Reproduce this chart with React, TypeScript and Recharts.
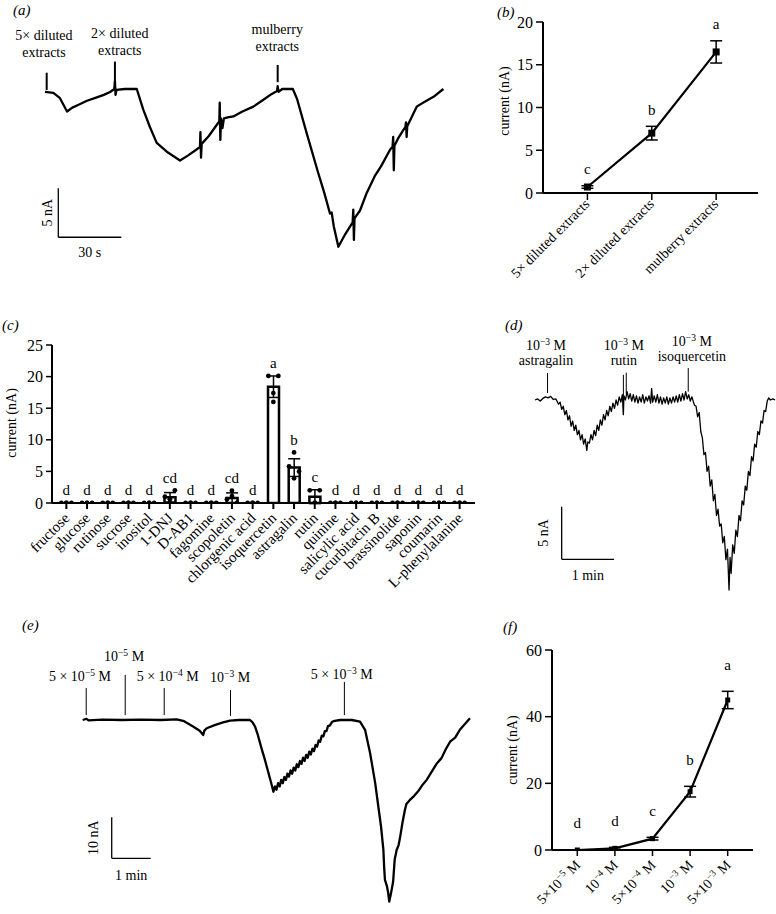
import React from 'react';
import {
  LineChart, Line, XAxis, YAxis, ReferenceLine, ReferenceDot,
  ComposedChart, Bar, ErrorBar, LabelList,
} from 'recharts';

const FONT = '"Liberation Serif", "Times New Roman", Times, serif';

// ---------------- Panel (a): trace, time (s) vs current (nA) ----------------
const aTrace = [
  [0, -0.3], [4, -0.4], [7, -0.9], [10.5, -2.3], [13, -1.9], [16, -1.6], [20, -1.2], [24, -0.9], [28, -0.6],
  [31, -0.3], [33, 0], [33.3, 0.8], [33.6, -0.6], [34, -0.1], [38, 0], [43.7, 0], [46.8, -2.1], [50, -3.9],
  [53.2, -5.5], [58, -6.4], [64.3, -7.3], [68, -6.8], [72, -6.2], [73.8, -5.9], [74, -4.4], [74.3, -7.0],
  [74.6, -5.6], [78, -4.8], [82, -3.6], [83, -3.3], [83.2, -1.4], [83.5, -5.2], [83.8, -3.0], [84.5, -4.0],
  [85.2, -3.0], [87, -2.9], [89.7, -2.8], [94, -2.3], [99.2, -1.8], [104, -1.1], [108, -0.5], [110.5, -0.2],
  [110.8, 0.3], [111.2, -0.3], [113, 0], [118, 0], [120, -1.0], [124.6, -4.5], [130, -8.5], [133, -10.6],
  [135.7, -12.7], [136.5, -12.6], [137.5, -14.0], [139.7, -16.1], [143, -14.8], [146.5, -13.6], [146.8, -12.3],
  [147.1, -15.4], [147.4, -13.2], [150, -12.4], [153.2, -10.6], [157, -8.9], [160, -7.9], [164.3, -6.2],
  [165.5, -5.9], [165.8, -4.9], [166.1, -8.3], [166.4, -5.8], [168, -5.1], [170.6, -4.2], [171.6, -3.9],
  [171.9, -3.4], [172.2, -4.9], [172.5, -3.8], [177, -1.8], [180, -1.4], [185, -0.8], [189.7, 0],
];
const aMarkerTime = [0.8, 33.3, 110.8];
const aMarkerTop = [1.66, 2.8, 2.45];
const aMarkerBottom = [-0.1, 0.1, 0.7];
const aLabelTime = [-0.5, 35.6, 110.6];
const aLabelLevel = [3.27, 3.47, 3.9];
const aLabels = [['5× diluted', 'extracts'], ['2× diluted', 'extracts'], ['mulberry', 'extracts']];
const aScale = { t: 6.33, I: -15.13, dt: 30, dI: 5, tLabel: '30 s', iLabel: '5 nA' };

// ---------------- Panel (b) ----------------
const bCategories = ['5× diluted extracts', '2× diluted extracts', 'mulberry extracts'];
const bMean = [0.7, 7.0, 16.5];
const bErr = [0.15, 0.8, 1.3];
const bLetters = ['c', 'b', 'a'];
const bTicks = [0, 5, 10, 15, 20];

// ---------------- Panel (c) ----------------
const cCompounds = [
  'fructose', 'glucose', 'rutinose', 'sucrose', 'inositol', '1-DNJ', 'D-AB1', 'fagomine', 'scopoletin',
  'chlorgenic acid', 'isoquercetin', 'astragalin', 'rutin', 'quinine', 'salicylic acid', 'cucurbitacin B',
  'brassinolide', 'saponin', 'coumarin', 'L-phenylalanine',
];
const cMean = [0, 0, 0, 0, 0, 0.9, 0, 0, 0.8, 0, 18.4, 5.6, 1.0, 0, 0, 0, 0, 0, 0, 0];
const cErr = [0, 0, 0, 0, 0, 0.75, 0, 0, 0.8, 0, 1.7, 1.4, 1.1, 0, 0, 0, 0, 0, 0, 0];
const cRep1 = [0, 0, 0, 0, 0, 1.0, 0, 0, 0.6, 0, 20.1, 5.8, 2.0, 0, 0, 0, 0, 0, 0, 0];
const cRep2 = [0, 0, 0, 0, 0, 2.0, 0, 0, 0, 0, 20.1, 5.0, 2.0, 0, 0, 0, 0, 0, 0, 0];
const cRep3 = [0, 0, 0, 0, 0, 0.6, 0, 0, 1.95, 0, 17.4, 8.0, 0, 0, 0, 0, 0, 0, 0, 0];
const cRep4 = [0, 0, 0, 0, 0, 0, 0, 0, 1.1, 0, 16.0, 3.9, 0, 0, 0, 0, 0, 0, 0, 0];
const cLetters = ['d', 'd', 'd', 'd', 'd', 'cd', 'd', 'd', 'cd', 'd', 'a', 'b', 'c', 'd', 'd', 'd', 'd', 'd', 'd', 'd'];
const cTicks = [0, 5, 10, 15, 20, 25];

// ---------------- Panel (d): trace, time (min) vs current (nA) ----------------
const dTrace = [
  [0, 0], [0.05, 0.1], [0.1, -0.1], [0.15, 0.15], [0.2, 0.3], [0.25, 0.2], [0.3, 0.35], [0.35, 0.05], [0.4, 0.1],
  [0.45, -0.4], [0.48, -0.2], [0.51, -0.9], [0.54, -0.6], [0.57, -1.4], [0.6, -1.0], [0.63, -1.9], [0.66, -1.5],
  [0.69, -2.5], [0.72, -2.0], [0.75, -2.9], [0.78, -2.4], [0.81, -3.3], [0.84, -2.9], [0.87, -3.8], [0.9, -3.3],
  [0.93, -4.2], [0.96, -3.7], [0.99, -4.8], [1.01, -4.0], [1.04, -4.1], [1.07, -3.3], [1.1, -3.8], [1.13, -2.9],
  [1.16, -3.4], [1.19, -2.4], [1.22, -2.9], [1.25, -1.9], [1.28, -2.4], [1.31, -1.4], [1.34, -1.9], [1.37, -1.0],
  [1.4, -1.5], [1.43, -0.6], [1.46, -1.1], [1.49, -0.3], [1.52, -0.8], [1.55, 0.0], [1.58, -0.5], [1.61, 0.3],
  [1.64, -0.2], [1.67, 0.5], [1.69, -1.4], [1.7, 0.4], [1.73, 0.0], [1.76, 0.8], [1.79, 0.1], [1.82, 0.6],
  [1.85, -0.1], [1.88, 0.5], [1.91, -0.2], [1.94, 0.4], [1.97, -0.3], [2.0, 0.3], [2.03, -0.2], [2.06, 0.5],
  [2.09, -0.3], [2.12, 0.3], [2.15, -0.1], [2.18, 0.4], [2.21, -0.3], [2.23, 1.1], [2.25, -0.2], [2.28, 0.4],
  [2.31, -0.2], [2.34, 0.5], [2.37, -0.3], [2.4, 0.3], [2.43, -0.4], [2.46, 0.2], [2.49, -0.3], [2.52, 0.3],
  [2.55, -0.4], [2.58, 0.2], [2.61, -0.3], [2.64, 0.3], [2.67, -0.2], [2.7, 0.4], [2.73, -0.2], [2.76, 0.5],
  [2.79, -0.1], [2.82, 0.6], [2.85, 0.0], [2.88, 0.8], [2.91, 0.1], [2.94, 0.5], [2.97, -0.1], [3.0, 0.3],
  [3.03, -0.2], [3.05, -0.5], [3.08, -0.6], [3.11, -1.6], [3.14, -1.2], [3.17, -3.0], [3.2, -3.6], [3.23, -5.2],
  [3.26, -5.0], [3.29, -6.8], [3.32, -6.3], [3.35, -8.2], [3.38, -7.6], [3.41, -9.6], [3.44, -9.0], [3.47, -11.0],
  [3.5, -10.4], [3.53, -12.0], [3.56, -11.8], [3.59, -13.6], [3.62, -13.0], [3.65, -15.2], [3.68, -14.2],
  [3.71, -18.1], [3.73, -15.0], [3.75, -16.5], [3.78, -13.8], [3.81, -14.6], [3.84, -12.4], [3.87, -13.0],
  [3.9, -11.0], [3.93, -11.5], [3.96, -9.6], [3.99, -10.0], [4.02, -8.2], [4.05, -8.6], [4.08, -6.8], [4.11, -7.2],
  [4.14, -5.4], [4.17, -5.8], [4.2, -4.2], [4.23, -4.5], [4.26, -3.0], [4.29, -3.3], [4.32, -2.0], [4.35, -2.2],
  [4.38, -1.0], [4.41, -1.1], [4.44, -0.1], [4.47, 0.2], [4.5, 0.0], [4.55, 0.1], [4.59, 0.0],
];
const dMarkerTime = [0.24, 1.69, 1.745, 2.93];
const dMarkerTop = [2.57, 2.4, 2.6, 3.05];
const dMarkerBottom = [0.67, -1.4, 0.6, 0.8];
const dLabelTime = [0.21, 1.7, 3.0];
const dLabelLevel = [3.33, 3.33, 3.67];
const dLabels = [['10^{−3} M', 'astragalin'], ['10^{−3} M', 'rutin'], ['10^{−3} M', 'isoquercetin']];
const dScale = { t: 0.51, I: -15.17, dt: 1, dI: 5, tLabel: '1 min', iLabel: '5 nA' };

// ---------------- Panel (e): trace, time (min) vs current (nA) ----------------
const eTrace = [
  [0, 0], [0.1, 0.3], [0.15, -0.1], [0.5, 0.1], [1.0, 0], [1.5, 0.1], [2.0, 0], [2.41, 0.17], [2.6, -0.3],
  [2.84, -1.63], [3.0, -2.6], [3.09, -3.66], [3.12, -2.6], [3.18, -2.02], [3.4, -1.2], [3.6, -0.6], [3.78, -0.17],
  [4.0, 0], [4.29, 0], [4.35, -0.5], [4.42, -1.6], [4.48, -3.3], [4.55, -5.7], [4.6, -7.4], [4.66, -9.3],
  [4.72, -11.4], [4.78, -13.5], [4.84, -15.6], [4.89, -17.5], [4.93, -16.2], [4.97, -17.0], [5.01, -15.4],
  [5.05, -16.2], [5.09, -14.6], [5.13, -15.4], [5.17, -13.9], [5.21, -14.6], [5.25, -13.1], [5.29, -13.8],
  [5.33, -12.3], [5.37, -13.1], [5.41, -11.6], [5.45, -12.3], [5.49, -10.8], [5.53, -11.5], [5.57, -10.0],
  [5.61, -10.7], [5.65, -9.2], [5.69, -10.0], [5.73, -8.5], [5.77, -9.2], [5.81, -7.7], [5.85, -8.4], [5.89, -7.0],
  [5.93, -7.6], [5.97, -6.1], [6.01, -6.5], [6.05, -5.0], [6.09, -5.3], [6.13, -3.8], [6.17, -4.0], [6.21, -2.7],
  [6.25, -2.7], [6.29, -1.5], [6.34, -1.3], [6.39, -0.5], [6.43, -0.3], [6.6, 0], [6.9, 0], [7.11, -0.4],
  [7.24, -2.4], [7.37, -8.1], [7.5, -15.4], [7.58, -21.1], [7.65, -26], [7.71, -31.7], [7.73, -36], [7.75, -39],
  [7.8, -40.5], [7.83, -42], [7.86, -44.3], [7.9, -42.5], [7.93, -41], [7.96, -39.4], [8.0, -34], [8.05, -31.7],
  [8.1, -30.5], [8.14, -28.5], [8.2, -25], [8.26, -22], [8.3, -20.5], [8.39, -19.5], [8.5, -18.5], [8.6, -17.4],
  [8.7, -16], [8.82, -14.6], [8.95, -12.6], [9.08, -10.6], [9.2, -9.3], [9.3, -7.3], [9.42, -5.3], [9.55, -4.3],
  [9.67, -2.4], [9.8, -1.0], [9.93, 0.4],
];
const eMarkerTime = [0.09, 1.09, 2.09, 3.79, 6.71];
const eMarkerTop = [7.8, 11.0, 7.8, 7.3, 9.3];
const eMarkerBottom = [1.2, 1.2, 1.2, 1.0, 1.2];
const eLabelTime = [-0.07, 1.06, 2.18, 3.78, 6.64];
const eLabelLevel = [9.51, 14.4, 9.51, 9.27, 10.0];
const eLabels = [['5 × 10^{−5} M'], ['10^{−5} M'], ['5 × 10^{−4} M'], ['10^{−3} M'], ['5 × 10^{−3} M']];
const eScale = { t: 0.744, I: -33.73, dt: 1, dI: 10, tLabel: '1 min', iLabel: '10 nA' };

// ---------------- Panel (f) ----------------
const fCategories = ['5×10^{−5} M', '10^{−4} M', '5×10^{−4} M', '10^{−3} M', '5×10^{−3} M'];
const fMean = [0, 0.5, 3.4, 17.5, 45];
const fErr = [0, 0.3, 0.4, 1.6, 2.6];
const fLetters = ['d', 'd', 'c', 'b', 'a'];
const fTicks = [0, 20, 40, 60];

// ---------------- helpers ----------------
function Rich({ text, x, y, anchor = 'middle', size = 14, rotate = 0 }: any) {
  const parts = String(text).split(/(\^\{[^}]*\})/).filter((s) => s.length > 0);
  let sup = false;
  const spans: any[] = [];
  parts.forEach((p, i) => {
    if (p.startsWith('^{')) {
      spans.push(<tspan key={i} dy={-size * 0.38} fontSize={size * 0.68}>{p.slice(2, -1)}</tspan>);
      sup = true;
    } else {
      spans.push(<tspan key={i} dy={sup ? size * 0.38 : 0}>{p}</tspan>);
      sup = false;
    }
  });
  return (
    <text x={x} y={y} textAnchor={anchor} fontSize={size} fontFamily={FONT} fill="#000"
      transform={rotate ? `rotate(${rotate} ${x} ${y})` : undefined}>{spans}</text>
  );
}

function vbOf(p: any) {
  const vb = p && p.viewBox ? p.viewBox : p;
  return { x: vb.x ?? p.x ?? p.cx, y: vb.y ?? p.y ?? p.cy };
}

function TracePanel({ left, top, width, height, x0, y0, sx, sy, trace, traceWidth, markerTime, markerTop,
  markerBottom, markerWidth, labelTime, labelLevel, labels, lineGap, scale, yLabOff, xLabOff }: any) {
  const data = trace.map((p: number[]) => ({ t: p[0], I: p[1] }));
  const xDomain = [-x0 / sx, (width - x0) / sx];
  const yDomain = [-(height - y0) / sy, y0 / sy];
  return (
    <div style={{ position: 'absolute', left, top }}>
      <LineChart width={width} height={height} data={data} margin={{ top: 0, right: 0, bottom: 0, left: 0 }}>
        <XAxis dataKey="t" type="number" domain={xDomain} hide allowDataOverflow />
        <YAxis type="number" domain={yDomain} hide allowDataOverflow />
        <Line dataKey="I" stroke="#000" strokeWidth={traceWidth} dot={false} activeDot={false}
          isAnimationActive={false} strokeLinejoin="round" />
        {markerTime.map((t: number, i: number) => (
          <ReferenceLine key={'m' + i} segment={[{ x: t, y: markerTop[i] }, { x: t, y: markerBottom[i] }]}
            stroke="#000" strokeWidth={markerWidth} ifOverflow="visible" />
        ))}
        {labelTime.map((t: number, i: number) => (
          <ReferenceDot key={'l' + i} x={t} y={labelLevel[i]} r={0} fill="none" stroke="none" ifOverflow="visible"
            label={(p: any) => {
              const { x, y } = vbOf(p);
              const n = labels[i].length;
              return (
                <g>
                  {labels[i].map((s: string, k: number) => (
                    <Rich key={k} text={s} x={x} y={y - (n - 1 - k) * lineGap} size={14} />
                  ))}
                </g>
              );
            }} />
        ))}
        <ReferenceLine segment={[{ x: scale.t, y: scale.I }, { x: scale.t, y: scale.I + scale.dI }]}
          stroke="#000" strokeWidth={1.3} ifOverflow="visible" />
        <ReferenceLine segment={[{ x: scale.t, y: scale.I }, { x: scale.t + scale.dt, y: scale.I }]}
          stroke="#000" strokeWidth={1.3} ifOverflow="visible" />
        <ReferenceDot x={scale.t} y={scale.I + scale.dI / 2} r={0} fill="none" stroke="none" ifOverflow="visible"
          label={(p: any) => {
            const { x, y } = vbOf(p);
            return <text x={x - yLabOff} y={y} textAnchor="middle" dominantBaseline="central" fontSize={14}
              fontFamily={FONT} fill="#000" transform={`rotate(-90 ${x - yLabOff} ${y})`}>{scale.iLabel}</text>;
          }} />
        <ReferenceDot x={scale.t + scale.dt / 2} y={scale.I} r={0} fill="none" stroke="none" ifOverflow="visible"
          label={(p: any) => {
            const { x, y } = vbOf(p);
            return <text x={x} y={y + xLabOff} textAnchor="middle" fontSize={14} fontFamily={FONT} fill="#000">{scale.tLabel}</text>;
          }} />
      </LineChart>
    </div>
  );
}

function RotTick(props: any) {
  const { x, y, payload, labels, dx = 0, dy = 0, size = 14 } = props;
  const text = labels ? labels[payload.value] : payload.value;
  return <Rich text={text} x={x + dx} y={y + dy} anchor="end" size={size} rotate={-45} />;
}

const axisLine = { stroke: '#000', strokeWidth: 2 };
const tickLine = { stroke: '#000', strokeWidth: 1.5 };
const yTick = { fontSize: 16, fill: '#000', fontFamily: FONT };

function letterContent(letters: string[], off: number) {
  return (p: any) => {
    const { x, y } = vbOf(p);
    const idx = p.index;
    return <text x={x} y={y - off} dy="0.35em" textAnchor="middle" fontSize={15} fontFamily={FONT} fill="#000">{letters[idx]}</text>;
  };
}

function squareDot(s: number) {
  return (p: any) => <rect key={'sq' + p.index} x={p.cx - s / 2} y={p.cy - s / 2} width={s} height={s} fill="#000" />;
}

function circleDot(dx: number) {
  return (p: any) => <circle key={'c' + p.index + dx} cx={p.cx + dx} cy={p.cy} r={2.4} fill="#000" />;
}

function PanelB() {
  const data = bCategories.map((c, i) => ({ x: i, mean: bMean[i], err: bErr[i], top: bMean[i] + bErr[i] }));
  return (
    <LineChart width={281} height={320} data={data} margin={{ top: 22, right: 18, left: 8, bottom: 17 }}>
      <XAxis dataKey="x" type="number" domain={[-0.69, 2.65]} ticks={[0, 1, 2]} interval={0} allowDataOverflow
        height={110} axisLine={axisLine} tickLine={tickLine} tickSize={7} tickMargin={0}
        tick={<RotTick labels={bCategories} dx={3} dy={5} size={14} />} />
      <YAxis type="number" domain={[0, 20]} ticks={bTicks} interval={0} allowDataOverflow width={40}
        axisLine={axisLine} tickLine={tickLine} tickSize={7} tickMargin={3} tick={yTick} />
      <Line dataKey="mean" stroke="#000" strokeWidth={2.2} dot={squareDot(7)} activeDot={false} isAnimationActive={false}>
        <ErrorBar dataKey="err" width={6} stroke="#000" strokeWidth={1.5} direction="y" />
      </Line>
      <Line dataKey="top" stroke="none" dot={false} activeDot={false} isAnimationActive={false}>
        <LabelList dataKey="top" content={letterContent(bLetters, 17)} />
      </Line>
    </LineChart>
  );
}

function PanelC() {
  const data = cCompounds.map((name, i) => ({
    name, mean: cMean[i], err: cErr[i], r1: cRep1[i], r2: cRep2[i], r3: cRep3[i], r4: cRep4[i],
    top: Math.max(cMean[i] + cErr[i], cRep1[i], cRep2[i], cRep3[i], cRep4[i]),
  }));
  return (
    <ComposedChart width={480} height={300} data={data} margin={{ top: 25, right: 5, left: 12, bottom: 17 }}>
      <XAxis dataKey="name" type="category" interval={0} padding={{ left: 4, right: 5 }} height={100}
        axisLine={axisLine} tickLine={{ stroke: '#000', strokeWidth: 2 }} tickSize={6} tickMargin={0}
        tick={<RotTick dx={4} dy={10} size={15} />} />
      <YAxis type="number" domain={[0, 25]} ticks={cTicks} interval={0} allowDataOverflow width={40}
        axisLine={axisLine} tickLine={tickLine} tickSize={6} tickMargin={3} tick={yTick} />
      <Bar dataKey="mean" fill="#fff" stroke="#000" strokeWidth={2.5} barSize={11} isAnimationActive={false}>
        <ErrorBar dataKey="err" width={6} stroke="#000" strokeWidth={1.5} direction="y" />
      </Bar>
      <Line dataKey="r1" stroke="none" dot={circleDot(-5)} activeDot={false} isAnimationActive={false} />
      <Line dataKey="r2" stroke="none" dot={circleDot(5)} activeDot={false} isAnimationActive={false} />
      <Line dataKey="r3" stroke="none" dot={circleDot(0)} activeDot={false} isAnimationActive={false} />
      <Line dataKey="r4" stroke="none" dot={circleDot(0)} activeDot={false} isAnimationActive={false} />
      <Line dataKey="top" stroke="none" dot={false} activeDot={false} isAnimationActive={false}>
        <LabelList dataKey="top" content={letterContent(cLetters, 13)} />
      </Line>
    </ComposedChart>
  );
}

function PanelF() {
  const data = fCategories.map((c, i) => ({ x: i, mean: fMean[i], err: fErr[i], top: fMean[i] + fErr[i] }));
  return (
    <LineChart width={296} height={304} data={data} margin={{ top: 40, right: 23, left: 32, bottom: 4 }}>
      <XAxis dataKey="x" type="number" domain={[-0.673, 4.673]} ticks={[0, 1, 2, 3, 4]} interval={0} allowDataOverflow
        height={60} axisLine={axisLine} tickLine={tickLine} tickSize={6} tickMargin={0}
        tick={<RotTick labels={fCategories} dx={4} dy={10} size={14} />} />
      <YAxis type="number" domain={[0, 60]} ticks={fTicks} interval={0} allowDataOverflow width={40}
        axisLine={axisLine} tickLine={tickLine} tickSize={7} tickMargin={3} tick={yTick} />
      <Line dataKey="mean" stroke="#000" strokeWidth={2.2} dot={squareDot(5)} activeDot={false} isAnimationActive={false}>
        <ErrorBar dataKey="err" width={6} stroke="#000" strokeWidth={1.5} direction="y" />
      </Line>
      <Line dataKey="top" stroke="none" dot={false} activeDot={false} isAnimationActive={false}>
        <LabelList dataKey="top" content={letterContent(fLetters, 27)} />
      </Line>
    </LineChart>
  );
}

export default function App() {
  const ital = { fontSize: 15, fontFamily: FONT, fontStyle: 'italic' as const, fill: '#000' };
  const ylab = (x: number, y: number) => (
    <text x={x} y={y} textAnchor="middle" dominantBaseline="central" fontSize={14} fontFamily={FONT} fill="#000"
      transform={`rotate(-90 ${x} ${y})`}>current (nA)</text>
  );
  return (
    <div style={{ position: 'absolute', left: 0, top: 0, width: 776, height: 914, background: '#fff', overflow: 'hidden' }}>
      <TracePanel left={0} top={0} width={470} height={270} x0={45} y0={89} sx={2.1} sy={9.8}
        trace={aTrace} traceWidth={2.3} markerTime={aMarkerTime} markerTop={aMarkerTop} markerBottom={aMarkerBottom}
        markerWidth={2} labelTime={aLabelTime} labelLevel={aLabelLevel} labels={aLabels} lineGap={17}
        scale={aScale} yLabOff={11} xLabOff={20} />
      <div style={{ position: 'absolute', left: 495, top: 0 }}><PanelB /></div>
      <div style={{ position: 'absolute', left: 0, top: 320 }}><PanelC /></div>
      <TracePanel left={480} top={320} width={296} height={290} x0={55} y0={80} sx={52.3} sy={10.5}
        trace={dTrace} traceWidth={1.3} markerTime={dMarkerTime} markerTop={dMarkerTop} markerBottom={dMarkerBottom}
        markerWidth={1} labelTime={dLabelTime} labelLevel={dLabelLevel} labels={dLabels} lineGap={15}
        scale={dScale} yLabOff={18} xLabOff={21} />
      <TracePanel left={0} top={610} width={480} height={304} x0={82.7} y0={110} sx={39} sy={4.1}
        trace={eTrace} traceWidth={2.3} markerTime={eMarkerTime} markerTop={eMarkerTop} markerBottom={eMarkerBottom}
        markerWidth={1} labelTime={eLabelTime} labelLevel={eLabelLevel} labels={eLabels} lineGap={15}
        scale={eScale} yLabOff={18} xLabOff={22} />
      <div style={{ position: 'absolute', left: 480, top: 610 }}><PanelF /></div>
      <svg width={776} height={914} style={{ position: 'absolute', left: 0, top: 0, pointerEvents: 'none' }}>
        <text x={13} y={15} {...ital}>(a)</text>
        <text x={497} y={17} {...ital}>(b)</text>
        <text x={2} y={330} {...ital}>(c)</text>
        <text x={505} y={330} {...ital}>(d)</text>
        <text x={22} y={630} {...ital}>(e)</text>
        <text x={503} y={632} {...ital}>(f)</text>
        {ylab(11, 423)}
        {ylab(504, 101)}
        {ylab(512, 750)}
      </svg>
    </div>
  );
}
